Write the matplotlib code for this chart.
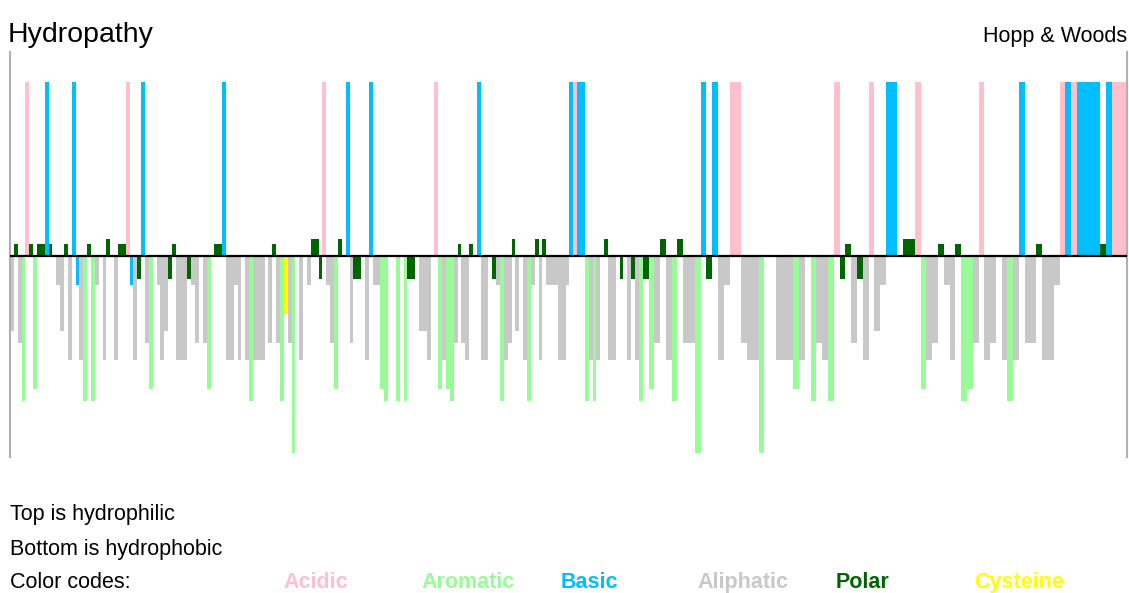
import numpy as np
import matplotlib.pyplot as plt

# one letter per bar, read left to right off the plot
seq = ("MQVFEQYNNKNGAMNLKHLFNFAGLSGLNNEHLTK"
       "VYGALMTNLLLTAVGVYGNNKLLALGLFLLLGVNV"
       "FCVWGLGASSTEAVYSGKVTTGLKAAYFGGFGFTTGM"
       "MLGEYLYFVNVLNGKLLGTAFLVSMGLFASLSAAAL"
       "LAKEKKFLFLGSLLGTGLTLF"
       "TYVSLFSVVW"
       "KTKLAEEVLLWGGLLLYLGFVLFET"
       "NVTLEMAKKGSSEYLVNALNFYVE"
       "LVGLFLKVVNLLAEKEKKKKNKEEE")

# Hopp & Woods hydrophilicity scale
hopp_woods = {'R': 3.0, 'K': 3.0, 'D': 3.0, 'E': 3.0, 'S': 0.3, 'N': 0.2, 'Q': 0.2,
              'G': 0.0, 'P': 0.0, 'T': -0.4, 'A': -0.5, 'H': -0.5, 'C': -1.0,
              'M': -1.3, 'V': -1.5, 'I': -1.8, 'L': -1.8, 'Y': -2.3, 'F': -2.5, 'W': -3.4}

group_names = ['Acidic', 'Aromatic', 'Basic', 'Aliphatic', 'Polar', 'Cysteine']
group_members = ['DE', 'FWY', 'KRH', 'GAVLIMP', 'STNQ', 'C']
group_colors = ['#ffc0cb', '#98fb98', '#00bfff', '#c8c8c8', '#006400', '#ffff00']

W, H = 1129, 593
fams = ['Liberation Sans', 'DejaVu Sans']


def fx(x):
    return x / W


def fy(y):
    return 1 - y / H


colour_of = {}
for members, c in zip(group_members, group_colors):
    for aa in members:
        colour_of[aa] = c

vals = [hopp_woods[a] for a in seq]
cols = [colour_of[a] for a in seq]
n = len(seq)

fig = plt.figure(figsize=(W / 100, H / 100), dpi=100)
ax = fig.add_axes([fx(10), fy(457), 1117 / W, 405 / H])

# bars are narrower in the first part of the plot than in the last
n1, w1, w2 = 164, 3.858, 5.79
xp = [0, n1, n]
pp = [0, n1 * w1, n1 * w1 + (n - n1) * w2]


def fwd(x):
    return np.interp(x, xp, pp)


def inv(p):
    return np.interp(p, pp, xp)


ax.set_xscale('function', functions=(fwd, inv))
ax.bar(np.arange(n), vals, width=1, align='edge', color=cols, linewidth=0)
ax.axhline(0, color='black', lw=1.6, zorder=5)
ax.set_xlim(0, n1 + (1117 - n1 * w1) / w2)
ax.set_ylim(-3.47, 3.52)
ax.set_xticks([])
ax.set_yticks([])
ax.xaxis.set_minor_locator(plt.NullLocator())
for s in ['top', 'bottom']:
    ax.spines[s].set_visible(False)
for s in ['left', 'right']:
    ax.spines[s].set_color('#b0b0b0')
    ax.spines[s].set_linewidth(1.5)

fig.text(fx(8), fy(42), 'Hydropathy', family=fams, size=20.5, color='black')
fig.text(fx(1127), fy(42), 'Hopp & Woods', family=fams, size=15.5, ha='right', color='black')

fig.text(fx(10), fy(520), 'Top is hydrophilic', family=fams, size=15.5, color='black')
fig.text(fx(10), fy(555), 'Bottom is hydrophobic', family=fams, size=15.5, color='black')
fig.text(fx(10), fy(588), 'Color codes:', family=fams, size=15.5, color='black')

label_x = [283, 421, 561, 697, 836, 974]
for name, c, x in zip(group_names, group_colors, label_x):
    fig.text(fx(x), fy(588), name, family=fams, size=15.5, weight='bold', color=c)

fig.savefig('out.png', dpi=100)
